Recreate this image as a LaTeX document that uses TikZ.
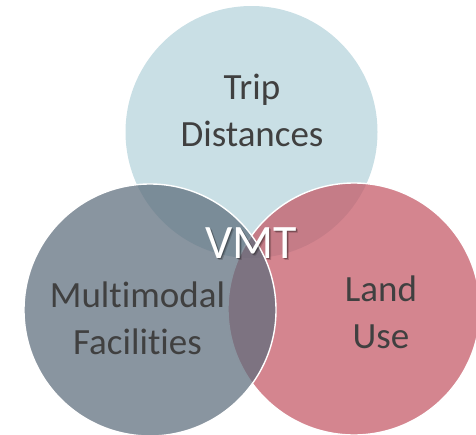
\documentclass[tikz,border=0pt]{standalone}
\usepackage{fontspec}
\setmainfont{Carlito}[Ligatures=NoCommon]
\definecolor{tripblue}{RGB}{201,223,229}
\definecolor{landred}{RGB}{196,86,100}
\definecolor{modegray}{RGB}{92,108,123}
\definecolor{labeltext}{RGB}{64,64,64}
\begin{document}
\begin{tikzpicture}[x=1pt,y=-1pt,
  venn/.style={circle, minimum size=252pt, inner sep=0pt, outer sep=0pt},
  ringed/.style={venn, draw=white, line width=1.4pt, fill opacity=0.72},
  label/.style={align=center, anchor=base, text=labeltext,
    font=\fontsize{37}{47}\selectfont},
  core/.style={anchor=base, font=\fontsize{48}{52}\selectfont}]
  \useasboundingbox (0,0) rectangle (476,434);
  \clip (0,0) rectangle (476,434);
  % the three overlapping circles
  \node[venn, fill=tripblue] (trip) at (251.5,132) {};
  \node[ringed, fill=landred] (land) at (354,309) {};
  \node[ringed, fill=modegray] (mode) at (150,310) {};
  % circle labels (anchored on the baseline of their last line)
  \node[label] (triptext) at (252,146) {Trip\\Distances};
  \node[label] (modetext) at (137.5,354) {Multimodal\\Facilities};
  \node[label] (landtext) at (381,348) {Land\\Use};
  % centre label with a soft drop shadow
  \node[core, text=black, opacity=0.18] (coreshadow2) at (253.5,260.5) {VMT};
  \node[core, text=black, opacity=0.3] (coreshadow) at (252.5,259.5) {VMT};
  \node[core, text=white] (core) at (251,258) {VMT};
\end{tikzpicture}
\end{document}
